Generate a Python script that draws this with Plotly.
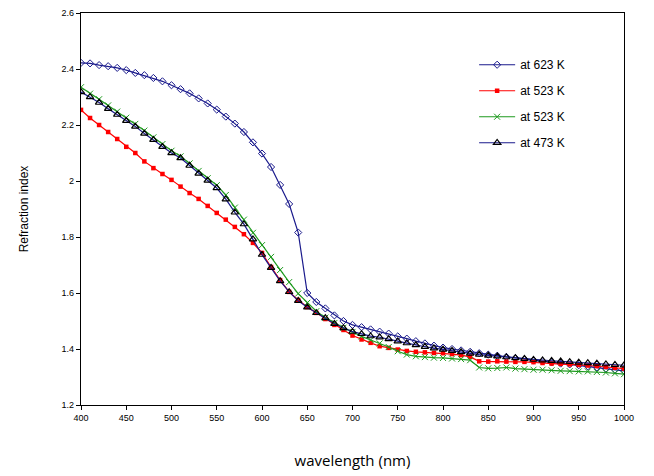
import plotly.graph_objects as go

wavelength = [400, 410, 420, 430, 440, 450, 460, 470, 480, 490,
              500, 510, 520, 530, 540, 550, 560, 570, 580, 590,
              600, 610, 620, 630, 640, 650, 660, 670, 680, 690,
              700, 710, 720, 730, 740, 750, 760, 770, 780, 790,
              800, 810, 820, 830, 840, 850, 860, 870, 880, 890,
              900, 910, 920, 930, 940, 950, 960, 970, 980, 990, 1000]

n_623K = [2.422, 2.420, 2.414, 2.410, 2.404, 2.396, 2.386, 2.378, 2.368, 2.356,
          2.342, 2.328, 2.313, 2.295, 2.277, 2.255, 2.230, 2.205, 2.175, 2.138,
          2.098, 2.050, 1.986, 1.918, 1.816, 1.600, 1.568, 1.545, 1.520, 1.500,
          1.486, 1.478, 1.470, 1.462, 1.455, 1.445, 1.437, 1.428, 1.420, 1.412,
          1.405, 1.400, 1.395, 1.390, 1.385, 1.380, 1.376, 1.372, 1.368, 1.364,
          1.360, 1.356, 1.352, 1.348, 1.345, 1.342, 1.338, 1.334, 1.330, 1.326, 1.322]

n_523K_a = [2.254, 2.225, 2.200, 2.175, 2.150, 2.122, 2.100, 2.070, 2.046, 2.025,
            2.004, 1.980, 1.957, 1.936, 1.911, 1.886, 1.862, 1.836, 1.810, 1.779,
            1.743, 1.693, 1.646, 1.604, 1.575, 1.550, 1.529, 1.507, 1.486, 1.468,
            1.448, 1.434, 1.422, 1.410, 1.404, 1.398, 1.393, 1.390, 1.388, 1.386,
            1.385, 1.382, 1.378, 1.372, 1.356, 1.355, 1.356, 1.355, 1.354, 1.354,
            1.353, 1.350, 1.348, 1.347, 1.345, 1.343, 1.341, 1.339, 1.336, 1.333, 1.330]

n_523K_b = [2.335, 2.312, 2.292, 2.270, 2.248, 2.226, 2.204, 2.180, 2.156, 2.132,
            2.108, 2.088, 2.063, 2.036, 2.010, 1.985, 1.950, 1.905, 1.862, 1.815,
            1.771, 1.729, 1.682, 1.639, 1.598, 1.565, 1.535, 1.512, 1.493, 1.476,
            1.461, 1.445, 1.432, 1.420, 1.407, 1.392, 1.380, 1.374, 1.371, 1.369,
            1.368, 1.366, 1.364, 1.360, 1.334, 1.331, 1.332, 1.334, 1.330, 1.328,
            1.326, 1.326, 1.324, 1.322, 1.321, 1.320, 1.320, 1.318, 1.316, 1.313, 1.310]

n_473K = [2.318, 2.300, 2.280, 2.258, 2.237, 2.215, 2.195, 2.170, 2.147, 2.122,
          2.100, 2.082, 2.055, 2.027, 2.002, 1.975, 1.935, 1.888, 1.846, 1.792,
          1.737, 1.690, 1.643, 1.604, 1.572, 1.549, 1.529, 1.511, 1.490, 1.475,
          1.462, 1.454, 1.446, 1.442, 1.436, 1.428, 1.421, 1.414, 1.408, 1.403,
          1.398, 1.394, 1.389, 1.384, 1.380, 1.377, 1.374, 1.371, 1.368, 1.365,
          1.362, 1.360, 1.358, 1.356, 1.354, 1.352, 1.350, 1.348, 1.346, 1.344, 1.342]

series_names = ["at 623 K", "at 523 K", "at 523 K", "at 473 K"]

fig = go.Figure()
fig.add_trace(go.Scatter(
    x=wavelength, y=n_623K, name=series_names[0], mode="lines+markers",
    line=dict(color="#1a1a8c", width=1.2),
    marker=dict(symbol="diamond-open", size=5.5, color="#1a1a8c", line=dict(width=1)),
    legendgroup="a"))
fig.add_trace(go.Scatter(
    x=wavelength, y=n_523K_a, name=series_names[1], mode="lines+markers",
    line=dict(color="#ff0000", width=1.2),
    marker=dict(symbol="square", size=4.5, color="#ff0000"),
    legendgroup="b"))
fig.add_trace(go.Scatter(
    x=wavelength, y=n_523K_b, name=series_names[2], mode="lines+markers",
    line=dict(color="#1e9a1e", width=1.2),
    marker=dict(symbol="x-thin-open", size=6, color="#1e9a1e", line=dict(width=1, color="#1e9a1e")),
    legendgroup="c"))
fig.add_trace(go.Scatter(
    x=wavelength, y=n_473K, name=series_names[3], mode="lines+markers",
    line=dict(color="#1a1a8c", width=1.2),
    marker=dict(symbol="triangle-up-open", size=6.5, color="#000000", line=dict(width=1.2)),
    legendgroup="d"))

fig.update_layout(
    width=646, height=468,
    margin=dict(l=73, r=30, t=5, b=71, autoexpand=False),
    paper_bgcolor="white", plot_bgcolor="white",
    font=dict(family="Liberation Sans, Arial, sans-serif", color="#000000"),
    showlegend=True,
    legend=dict(x=0.724, y=0.905, xanchor="left", yanchor="top",
                bgcolor="rgba(255,255,255,0)", font=dict(size=12, color="#000000"),
                tracegroupgap=7, itemwidth=36),
)
fig.update_xaxes(
    range=[400, 1000], dtick=50, tick0=400,
    showline=True, linecolor="#000000", linewidth=1.3, mirror=True,
    ticks="outside", ticklen=4, tickcolor="#000000",
    showgrid=False, zeroline=False, automargin=False,
    tickfont=dict(size=9),
    title=dict(text="wavelength (nm)", font=dict(size=15, family="Open Sans, sans-serif"), standoff=33),
)
fig.update_yaxes(
    range=[1.2, 2.6], dtick=0.2, tick0=1.2,
    showline=True, linecolor="#000000", linewidth=1.3, mirror=True,
    ticks="outside", ticklen=4, tickcolor="#000000",
    showgrid=False, zeroline=False, automargin=False,
    tickfont=dict(size=9),
    title=dict(text="Refraction index", font=dict(size=12), standoff=30),
)

fig.write_html("out.html")
